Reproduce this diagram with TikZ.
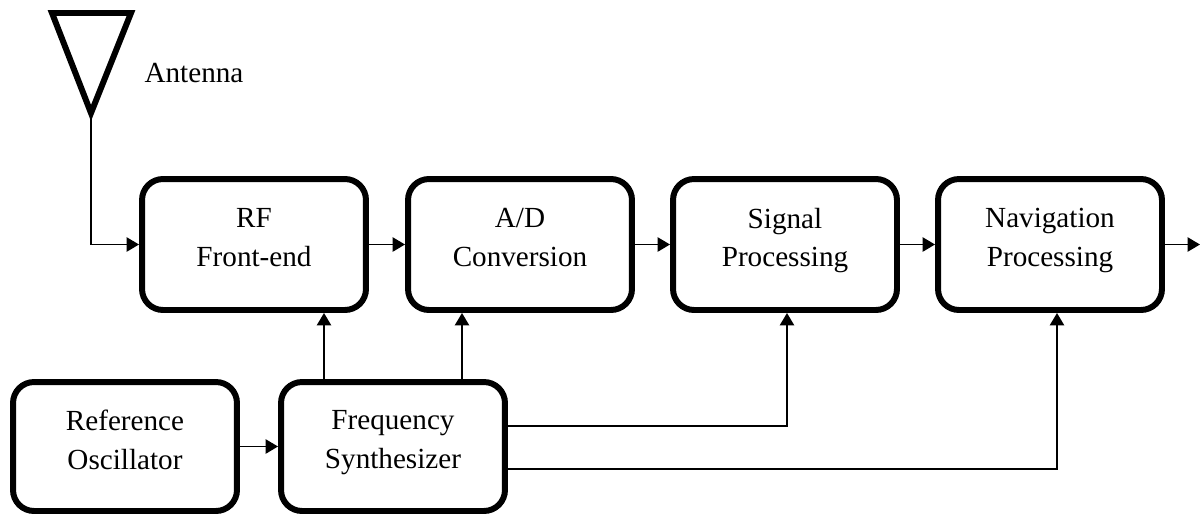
\documentclass[tikz,border=0pt]{standalone}
\usepackage{fontspec}
\setmainfont{Liberation Serif}
\usepackage{tikz}
\usetikzlibrary{positioning,calc,arrows.meta}

\tikzset{
    block/.style={draw, line width=3.4pt, rounded corners=0.42cm, align=center,
        minimum width=4.48cm, minimum height=2.62cm, inner sep=0pt,
        font=\fontsize{16.6}{22}\selectfont,
        execute at end node={\rule[-8pt]{0pt}{0pt}}},
    conn/.style={line width=1.1pt, -{Triangle[length=7pt,width=8pt]}}
}

\begin{document}
\begin{tikzpicture}[x=0.02cm,y=-0.02cm]
        \useasboundingbox (0,0) rectangle (1200,515);
        % antenna
        \draw[line width=3.4pt] (52,13) -- (131,13) -- (91,113) -- cycle;
        \coordinate (ant) at (91,116);
        \node[font=\fontsize{16.6}{20}\selectfont] (antlabel) at (194,73) {Antenna};
        % receiver chain
        \node[block] (rf) at (254,244.5) {RF\\Front-end};
        \node[block] (adc) at (520,244.5) {A/D\\Conversion};
        \node[block] (sig) at (785,244.5) {Signal\\Processing};
        \node[block] (nav) at (1050,244.5) {Navigation\\Processing};
        \coordinate (out) at (1200,244.5);
        % clock generation
        \node[block, minimum height=2.58cm, execute at end node={\rule[-5pt]{0pt}{0pt}}] (osc) at (125,446.5) {Reference\\Oscillator};
        \node[block, minimum height=2.58cm, execute at end node={\rule[-5pt]{0pt}{0pt}}] (syn) at (393,446.5) {Frequency\\Synthesizer};
        \coordinate (synl) at ($(syn.north)+(-69,0)$);
        \coordinate (synr) at ($(syn.north)+(69,0)$);
        % connections
        \draw[conn] (ant) |- (rf.west);
        \draw[conn] (rf) -- (adc);
        \draw[conn] (adc) -- (sig);
        \draw[conn] (sig) -- (nav);
        \draw[conn] (nav) -- (out);
        \draw[conn] (osc) -- (syn);
        \draw[conn] (synl) -- (synl |- rf.south);
        \draw[conn] (synr) -- (synr |- adc.south);
        \draw[conn] ($(syn.east)+(0,-20.5)$) -| ($(sig.south)+(2,0)$);
        \draw[conn] ($(syn.east)+(0,22.5)$) -| ($(nav.south)+(7,0)$);
    \end{tikzpicture}
\end{document}
